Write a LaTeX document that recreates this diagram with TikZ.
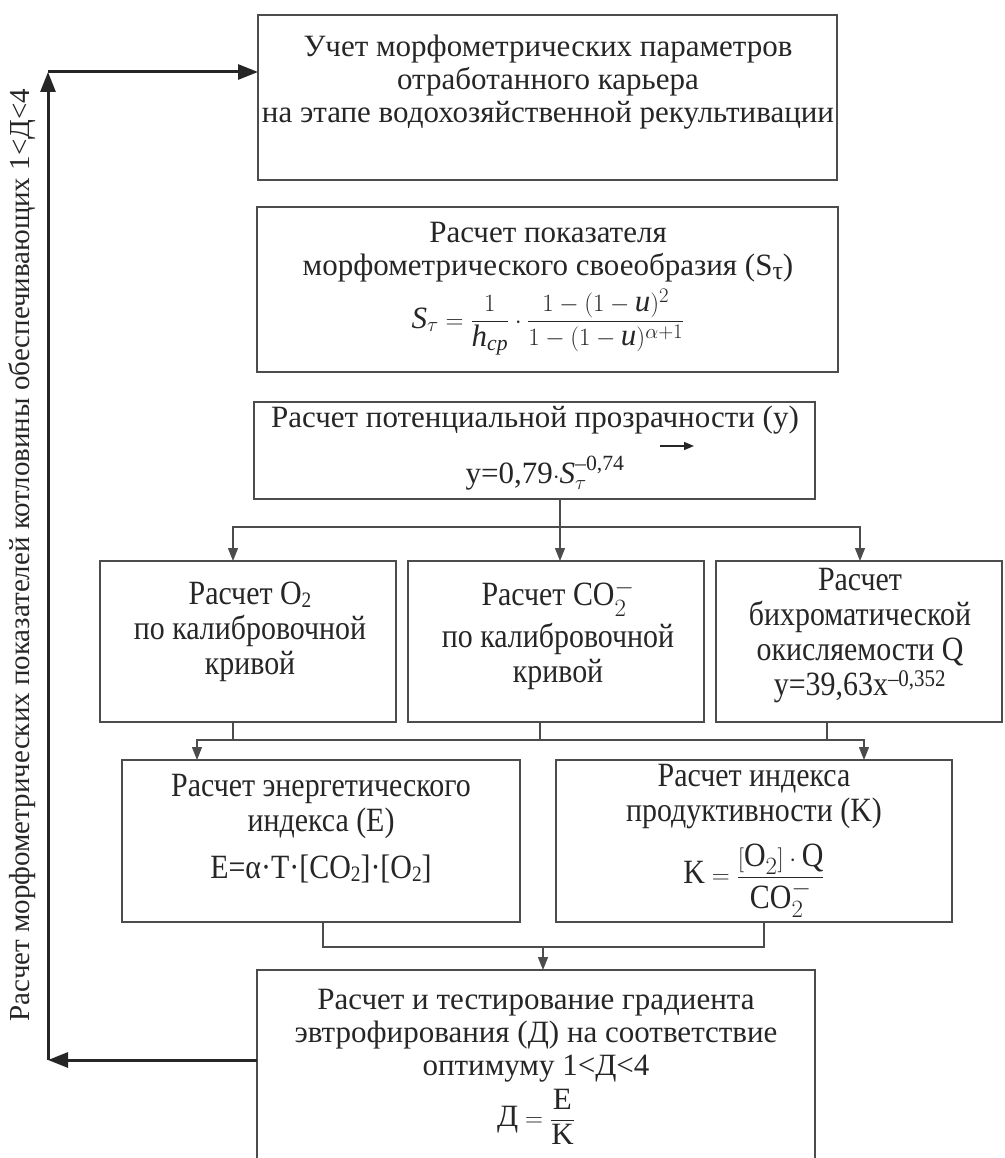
\documentclass[tikz,border=0pt]{standalone}
\usepackage{amsmath}
\usepackage{fontspec}
\setmainfont{Liberation Serif}
\newfontfamily\condf[FakeStretch=0.88]{Liberation Serif}
\usetikzlibrary{arrows.meta}
\newcommand{\lowsub}[1]{\raisebox{-3pt}{\fontsize{22}{22}\selectfont #1}}
\begin{document}
\begin{tikzpicture}[x=1pt,y=-1pt]
\tikzset{
 box/.style={draw=black!70, line width=1.3pt, inner sep=0pt, outer sep=0pt, anchor=north west},
 txt/.style={align=center, text=black!85, font=\fontsize{31}{33}\selectfont, inner sep=0pt},
 ctxt/.style={align=center, text=black!85, font=\condf\fontsize{34}{35}\selectfont, inner sep=0pt},
 conn/.style={draw=black!70, line width=1.3pt},
 arr/.style={conn, -{Triangle[length=13pt,width=10pt]}},
 bigarr/.style={draw=black!85, line width=3pt, -{Triangle[length=20pt,width=15pt]}},
}
\useasboundingbox (0,0) rectangle (1004,1158);
\fill[white] (0,0) rectangle (1004,1158);

% boxes
\node[box, minimum width=579pt, minimum height=165pt] (b1) at (258,15) {};
\node[box, minimum width=581pt, minimum height=165pt] (b2) at (257,207) {};
\node[box, minimum width=561pt, minimum height=97pt] (b3) at (254,402) {};
\node[box, minimum width=296pt, minimum height=161pt] (r1) at (100,561) {};
\node[box, minimum width=296pt, minimum height=161pt] (r2) at (408,561) {};
\node[box, minimum width=286pt, minimum height=161pt] (r3) at (716,561) {};
\node[box, minimum width=398pt, minimum height=162pt] (e) at (122,760) {};
\node[box, minimum width=396pt, minimum height=162pt] (k) at (556,760) {};
\node[box, minimum width=558pt, minimum height=210pt] (d) at (257,970) {};

% texts
\node[txt] (t1) at (548,82) {Учет морфометрических параметров\\отработанного карьера\\на этапе водохозяйственной рекультивации};
\node[txt] (t2) at (548,252) {Расчет показателя\\морфометрического своеобразия (S{\fontsize{26}{26}\selectfont\raisebox{-4pt}{τ}})};
\node[txt] (f2) at (548,322) {$\displaystyle \textit{S}_{\tau} = \frac{1}{\textit{h}_{\textit{cp}}}\cdot\frac{1-(1-\textit{u})^{2}}{1-(1-\textit{u})^{\alpha+1}}$};
\node[txt] (t3) at (535,420) {Расчет потенциальной прозрачности (y)};
\node[txt] (f3) at (545,473) {y=0,79$\cdot\textit{S}_{\tau}^{\text{–0,74}}$};
\coordinate (sa) at (660,446);
\coordinate (sb) at (694,446);
\draw[draw=black!85, line width=1.5pt, -{Triangle[length=10pt,width=8pt]}] (sa) -- (sb);

\node[ctxt] (tr1) at (250,632) {Расчет O\lowsub{2}\\по калибровочной\\кривой};
\node[ctxt] (tr2) at (558,635) {Расчет CO$_2^-$\\[6pt]по калибровочной\\кривой};
\node[ctxt] (tr3) at (860,636) {Расчет\\бихроматической\\окисляемости Q\\y=39,63x\textsuperscript{–0,352}};

\node[ctxt] (te) at (321,806) {Расчет энергетического\\индекса (E)};
\node[ctxt] (fe) at (321,869) {E=α·T·[CO\lowsub{2}]·[O\lowsub{2}]};
\node[ctxt] (tk) at (754,797) {Расчет индекса\\продуктивности (K)};
\node[ctxt] (fk) at (754,881) {$\text{K} = \dfrac{[\text{O}_2]\cdot\text{Q}}{\text{CO}_2^-}$};

\node[txt] (td) at (536,1036) {Расчет и тестирование градиента\\эвтрофирования (Д) на соответствие\\оптимуму 1<Д<4};
\node[txt] (fd) at (536,1117) {$\text{Д} = \dfrac{\text{E}}{\text{K}}$};

\node[txt, rotate=90, font=\fontsize{29}{29}\selectfont] (side) at (22,555) {Расчет морфометрических показателей котловины обеспечивающих 1<Д<4};

% connectors
\coordinate (c0) at (560,527);
\coordinate (c1) at (233,527);
\coordinate (c3) at (860,527);
\draw[conn] (b3.south -| c0) -- (c0);
\draw[arr] (c0) -- (r2.north -| c0);
\draw[arr] (c0) -- (c1) -- (r1.north -| c1);
\draw[arr] (c0) -- (c3) -- (r3.north -| c3);

\coordinate (m1) at (233,740);
\coordinate (m2) at (540,740);
\coordinate (m3) at (827,740);
\coordinate (mL) at (197,740);
\coordinate (mR) at (864,740);
\draw[conn] (r1.south -| m1) -- (m1);
\draw[conn] (r2.south -| m2) -- (m2);
\draw[conn] (r3.south -| m3) -- (m3);
\draw[arr] (m1) -- (mL) -- (e.north -| mL);
\draw[arr] (m1) -- (mR) -- (k.north -| mR);

\coordinate (n1) at (323,947);
\coordinate (n2) at (764,947);
\coordinate (n0) at (543,947);
\draw[conn] (e.south -| n1) -- (n1) -- (n2) -- (k.south -| n2);
\draw[arr] (n0) -- (d.north -| n0);

\coordinate (lb) at (48,1060);
\coordinate (lt) at (48,72);
\draw[bigarr] (d.west |- lb) -- (lb);
\draw[bigarr] (lb) -- (lt);
\draw[bigarr] (lt) -- (b1.west |- lt);
\end{tikzpicture}
\end{document}
